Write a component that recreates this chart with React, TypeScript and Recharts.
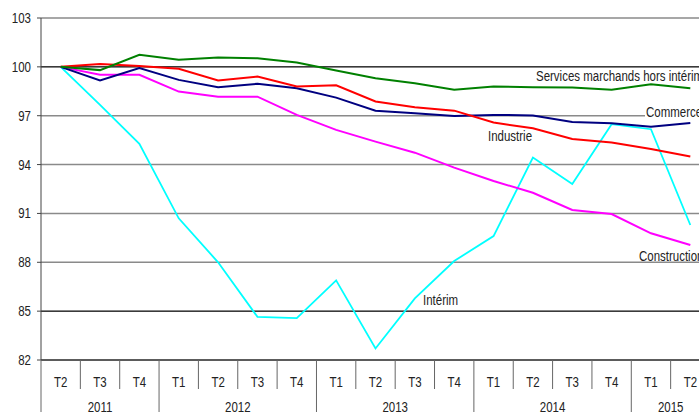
import React from 'react';
import { LineChart, Line, XAxis, YAxis, CartesianGrid, ReferenceLine } from 'recharts';

// Trimestres (T2 2011 -> T2 2015)
const quarters = ['T2', 'T3', 'T4', 'T1', 'T2', 'T3', 'T4', 'T1', 'T2', 'T3', 'T4', 'T1', 'T2', 'T3', 'T4', 'T1', 'T2'];
const yearLabels = ['2011', '2012', '2013', '2014', '2015'];
const quartersPerYear = [3, 4, 4, 4, 2];

// Indices base 100 au T2 2011
const services = [100, 99.8, 100.74, 100.43, 100.57, 100.53, 100.27, 99.77, 99.3, 99.0, 98.59, 98.79, 98.75, 98.73, 98.59, 98.93, 98.69];
const industrie = [100, 100.18, 100.06, 99.88, 99.16, 99.4, 98.79, 98.87, 97.87, 97.52, 97.31, 96.58, 96.23, 95.57, 95.35, 94.96, 94.49];
const commerce = [100, 99.16, 99.92, 99.2, 98.75, 98.96, 98.69, 98.11, 97.31, 97.15, 96.99, 97.05, 97.02, 96.62, 96.54, 96.33, 96.55];
const construction = [100, 99.51, 99.51, 98.48, 98.17, 98.17, 97.05, 96.13, 95.41, 94.73, 93.81, 92.99, 92.27, 91.21, 90.96, 89.78, 89.06];
const interim = [100, 97.66, 95.27, 90.7, 88.0, 84.65, 84.57, 86.89, 82.71, 85.78, 88.08, 89.61, 94.43, 92.81, 96.48, 96.17, 90.29];

const yTicks = [82, 85, 88, 91, 94, 97, 100, 103];

// year of each category, built from the counts above
const yearOfIndex: string[] = [];
yearLabels.forEach((y, i) => {
  for (let k = 0; k < quartersPerYear[i]; k++) yearOfIndex.push(y);
});

const data = quarters.map((q, i) => ({
  key: `${i}|${q}|${yearOfIndex[i]}`,
  services: services[i],
  industrie: industrie[i],
  commerce: commerce[i],
  construction: construction[i],
  interim: interim[i],
}));

const FONT = "'Liberation Sans', Arial, sans-serif";
const SQUEEZE = 0.82; // the original text is horizontally narrow
const CHART_W = 712;
const CHART_H = 430;
const MARGIN = { top: 18, right: 2, left: 0, bottom: 0 };
const Y_AXIS_W = 41;
const BAND_W = (CHART_W - MARGIN.left - MARGIN.right - Y_AXIS_W) / quarters.length;

// narrow text: Liberation Sans squeezed horizontally
const NText = ({ x, y, anchor = 'start', children }: any) => (
  <text
    transform={`translate(${x},${y}) scale(${SQUEEZE},1)`}
    textAnchor={anchor}
    fontSize={14}
    fontFamily={FONT}
    fill="#222"
  >
    {children}
  </text>
);

const QuarterTick = (props: any) => {
  const { x, y, payload } = props;
  const [idxStr, q, year] = String(payload.value).split('|');
  const idx = Number(idxStr);
  const axisY = y;
  const left = x - BAND_W / 2;
  const firstOfYear = idx === 0 || q === 'T1';
  const yi = yearLabels.indexOf(year);
  return (
    <g>
      <line
        x1={left}
        x2={left}
        y1={axisY}
        y2={firstOfYear ? axisY + 60 : axisY + 29}
        stroke="#666"
        strokeWidth={1}
      />
      <NText x={x} y={axisY + 26.5} anchor="middle">{q}</NText>
      {firstOfYear && (
        <NText x={left + (quartersPerYear[yi] * BAND_W) / 2} y={axisY + 51.5} anchor="middle">
          {year}
        </NText>
      )}
    </g>
  );
};

const ValueTick = (props: any) => {
  const { x, y, payload } = props;
  return <NText x={x} y={y + 5} anchor="end">{payload.value}</NText>;
};

export default function App() {
  return (
    <div style={{ position: 'fixed', left: 0, top: 0, width: 699, height: 412, overflow: 'hidden', background: '#fff' }}>
      <LineChart width={CHART_W} height={CHART_H} data={data} margin={MARGIN}>
        <CartesianGrid vertical={false} stroke="#8a8a8a" strokeWidth={1.5} />
        <ReferenceLine y={100} stroke="#111" strokeWidth={1} />
        <ReferenceLine y={85} stroke="#111" strokeWidth={1} />
        <XAxis
          dataKey="key"
          scale="band"
          interval={0}
          height={70}
          tickLine={false}
          tickSize={0}
          tickMargin={0}
          axisLine={{ stroke: '#111', strokeWidth: 1 }}
          tick={(p: any) => <QuarterTick {...p} />}
        />
        <YAxis
          width={Y_AXIS_W}
          domain={[82, 103]}
          ticks={yTicks}
          interval={0}
          tickSize={4}
          tickMargin={6}
          axisLine={{ stroke: '#444' }}
          tickLine={{ stroke: '#444' }}
          tick={(p: any) => <ValueTick {...p} />}
        />
        <Line dataKey="interim" stroke="#00ffff" strokeWidth={1.8} dot={false} isAnimationActive={false} />
        <Line dataKey="construction" stroke="#ff00ff" strokeWidth={2} dot={false} isAnimationActive={false} />
        <Line dataKey="commerce" stroke="#000080" strokeWidth={2} dot={false} isAnimationActive={false} />
        <Line dataKey="industrie" stroke="#ff0000" strokeWidth={2} dot={false} isAnimationActive={false} />
        <Line dataKey="services" stroke="#008000" strokeWidth={2} dot={false} isAnimationActive={false} />
      </LineChart>
      <svg width={699} height={412} style={{ position: 'absolute', left: 0, top: 0, pointerEvents: 'none' }}>
        <rect x={645} y={105} width={60} height={13} fill="#fff" />
        <NText x={536} y={81}>Services marchands hors intérim</NText>
        <NText x={646} y={117}>Commerce</NText>
        <NText x={488} y={141}>Industrie</NText>
        <NText x={639} y={261}>Construction</NText>
        <NText x={423} y={305}>Intérim</NText>
      </svg>
    </div>
  );
}
